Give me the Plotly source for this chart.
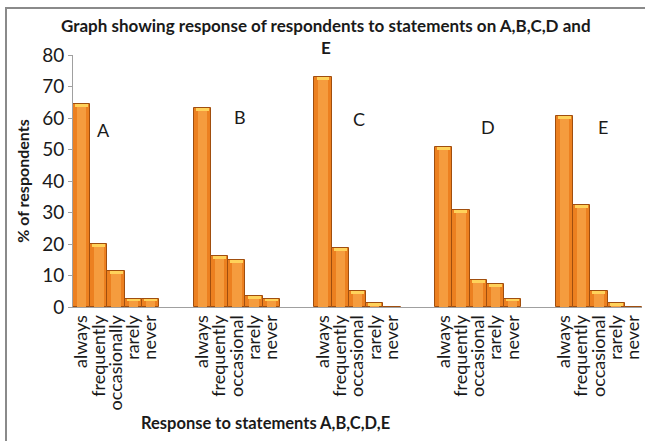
import plotly.graph_objects as go

groups = ["A", "B", "C", "D", "E"]
responses = [
    ["always", "frequently", "occasionally", "rarely", "never"],
    ["always", "frequently", "occasional", "rarely", "never"],
    ["always", "frequently", "occasional", "rarely", "never"],
    ["always", "frequently", "occasional", "rarely", "never"],
    ["always", "frequently", "occasional", "rarely", "never"],
]
values_A = [64.4, 19.9, 11.3, 2.7, 2.7]
values_B = [63.1, 16.1, 14.8, 3.6, 2.7]
values_C = [72.9, 18.6, 5.1, 1.3, 0.0]
values_D = [50.7, 30.7, 8.5, 7.4, 2.7]
values_E = [60.6, 32.3, 5.1, 1.3, 0.0]
all_values = [values_A, values_B, values_C, values_D, values_E]
y_ticks = [0, 10, 20, 30, 40, 50, 60, 70, 80]

GAP = 2  # empty category slots between groups
xs, ys, labels = [], [], []
for g, (vals, labs) in enumerate(zip(all_values, responses)):
    for i, (v, lab) in enumerate(zip(vals, labs)):
        xs.append(g * (len(vals) + GAP) + i)
        ys.append(v)
        labels.append(lab)

FONT = "Lato, Open Sans, sans-serif"
TXT = "#1a1a1a"

fig = go.Figure()
# main bar body
fig.add_trace(go.Bar(
    x=xs, y=ys, width=1.0,
    marker=dict(color="#EC8020", line=dict(color="#A04E0E", width=1)),
    hoverinfo="skip", showlegend=False,
))
# central highlight for a bevelled look
fig.add_trace(go.Bar(
    x=xs, y=[max(v - 0.9, 0) for v in ys], width=0.55,
    marker=dict(color="#F59C3E", line=dict(width=0)),
    hoverinfo="skip", showlegend=False,
))
# yellow top bevel
fig.add_trace(go.Bar(
    x=xs, y=[0.9 if v > 0.5 else 0 for v in ys],
    base=[max(v - 0.9, 0) for v in ys], width=0.75,
    marker=dict(color="#FFD25A", line=dict(width=0)),
    hoverinfo="skip", showlegend=False,
))

def px_x(px):
    return (px - 73) / 569

def px_y(py):
    return (307 - py) / 252

ann_pos = [(1.24, 56.2), (9.19, 60.3), (16.1, 59.6), (23.57, 57.1), (30.24, 57.1)]
annotations = []
for g, (ax, ay) in zip(groups, ann_pos):
    annotations.append(dict(x=ax, y=ay, xref="x", yref="y", text=g, showarrow=False,
                            font=dict(family=FONT, size=18, color=TXT)))
annotations.append(dict(x=px_x(265), y=px_y(423), xref="paper", yref="paper",
                        xanchor="center", yanchor="middle",
                        text="<b>Response to statements A,B,C,D,E</b>",
                        showarrow=False, font=dict(family=FONT, size=16.5, color=TXT)))
annotations.append(dict(x=px_x(326), y=px_y(36), xref="paper", yref="paper",
                        xanchor="center", yanchor="middle",
                        text="<b>Graph showing response of respondents to statements on A,B,C,D and<br>E</b>",
                        showarrow=False, font=dict(family=FONT, size=17, color=TXT)))

fig.update_layout(
    width=645, height=441,
    margin=dict(l=73, r=3, t=55, b=134),
    plot_bgcolor="white", paper_bgcolor="white",
    barmode="overlay", bargap=0,
    font=dict(family=FONT, color=TXT),
    xaxis=dict(
        tickmode="array", tickvals=xs, ticktext=labels, tickangle=-90,
        range=[-0.5, xs[-1] + 0.5], showgrid=False, zeroline=False,
        showline=True, linecolor="#a0a0a0", linewidth=1, ticks="",
        tickfont=dict(family=FONT, size=18, color=TXT),
    ),
    yaxis=dict(
        range=[0, 80], tickvals=y_ticks, showgrid=False, zeroline=False,
        showline=True, linecolor="#a0a0a0", linewidth=1,
        ticks="outside", ticklen=4, tickcolor="#a0a0a0",
        tickfont=dict(family=FONT, size=19, color=TXT),
        title=dict(text="<b>% of respondents</b>", font=dict(family=FONT, size=16, color=TXT), standoff=8),
    ),
    annotations=annotations,
)
# outer frame (left and top edges visible)
fig.add_shape(type="rect", xref="paper", yref="paper",
              x0=px_x(6), x1=1.1, y0=-0.7, y1=px_y(8),
              line=dict(color="#8a8a8a", width=2), fillcolor="rgba(0,0,0,0)", layer="below")

fig.write_html("out.html", config={"displayModeBar": False},
               post_script="document.body.style.margin='0px';")
